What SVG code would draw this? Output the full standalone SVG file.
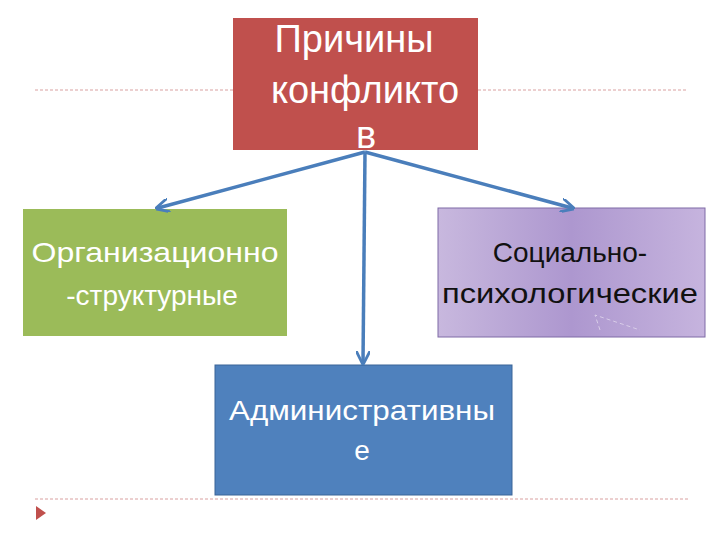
<svg xmlns="http://www.w3.org/2000/svg" width="720" height="540" viewBox="0 0 720 540">
<style>
.t{font-family:"Liberation Sans",Arial,sans-serif;font-size:28px;text-anchor:middle}
.h{font-size:38px}
.w{fill:#fff}.k{fill:#111}
.d{stroke:#d9a0a0;stroke-width:1;stroke-dasharray:3,2;fill:none}
.c{stroke:#4a7ebb;stroke-width:3.5;fill:none}
</style>
<defs>
<linearGradient id="pg" x1="0" y1="0" x2="1" y2="0">
<stop offset="0" stop-color="#c8b8de"/><stop offset="0.5" stop-color="#ad97cf"/><stop offset="1" stop-color="#c6b4de"/>
</linearGradient>
<marker id="a" viewBox="0 0 10 10" refX="8" refY="5" markerWidth="4" markerHeight="4" orient="auto"><path d="M0,0L10,5L0,10" fill="none" stroke="#4a7ebb" stroke-width="2"/></marker>
</defs>
<line class="d" x1="35" y1="90" x2="233" y2="90"/>
<line class="d" x1="478" y1="90" x2="688" y2="90"/>
<line class="d" x1="35" y1="499" x2="688" y2="499"/>
<path d="M36,506L46,513L36,520Z" fill="#c0504d"/>
<g id="root"><rect x="233" y="18" width="245" height="132" fill="#c0504d"/>
<text class="t h w" x="354" y="52">Причины</text>
<text class="t h w" x="365" y="103">конфликто</text>
<text class="t h w" x="366" y="148">в</text></g>
<g id="org"><rect x="23" y="209" width="264" height="127" fill="#9bbb59"/>
<text class="t w" x="155" y="262" textLength="247" lengthAdjust="spacingAndGlyphs">Организационно</text>
<text class="t w" x="152" y="305">-структурные</text></g>
<g id="soc"><rect x="438" y="208" width="267" height="129" fill="url(#pg)" stroke="#7f6aa6"/>
<path d="M600,330L595,315L640,330" stroke="#d8cce8" stroke-dasharray="4,3" fill="none"/>
<text class="t k" x="570" y="262">Социально-</text>
<text class="t k" x="570" y="303" textLength="256" lengthAdjust="spacingAndGlyphs">психологические</text></g>
<g id="adm"><rect x="215" y="365" width="297" height="130" fill="#4f81bd" stroke="#3a6498"/>
<text class="t w" x="362" y="420" textLength="266" lengthAdjust="spacingAndGlyphs">Административны</text>
<text class="t w" x="362" y="460">е</text></g>
<g id="connectors">
<line class="c" x1="365" y1="152" x2="158" y2="208" marker-end="url(#a)"/>
<line class="c" x1="365" y1="152" x2="572" y2="208" marker-end="url(#a)"/>
<line class="c" x1="365" y1="152" x2="363" y2="362" marker-end="url(#a)"/>
</g>
</svg>
